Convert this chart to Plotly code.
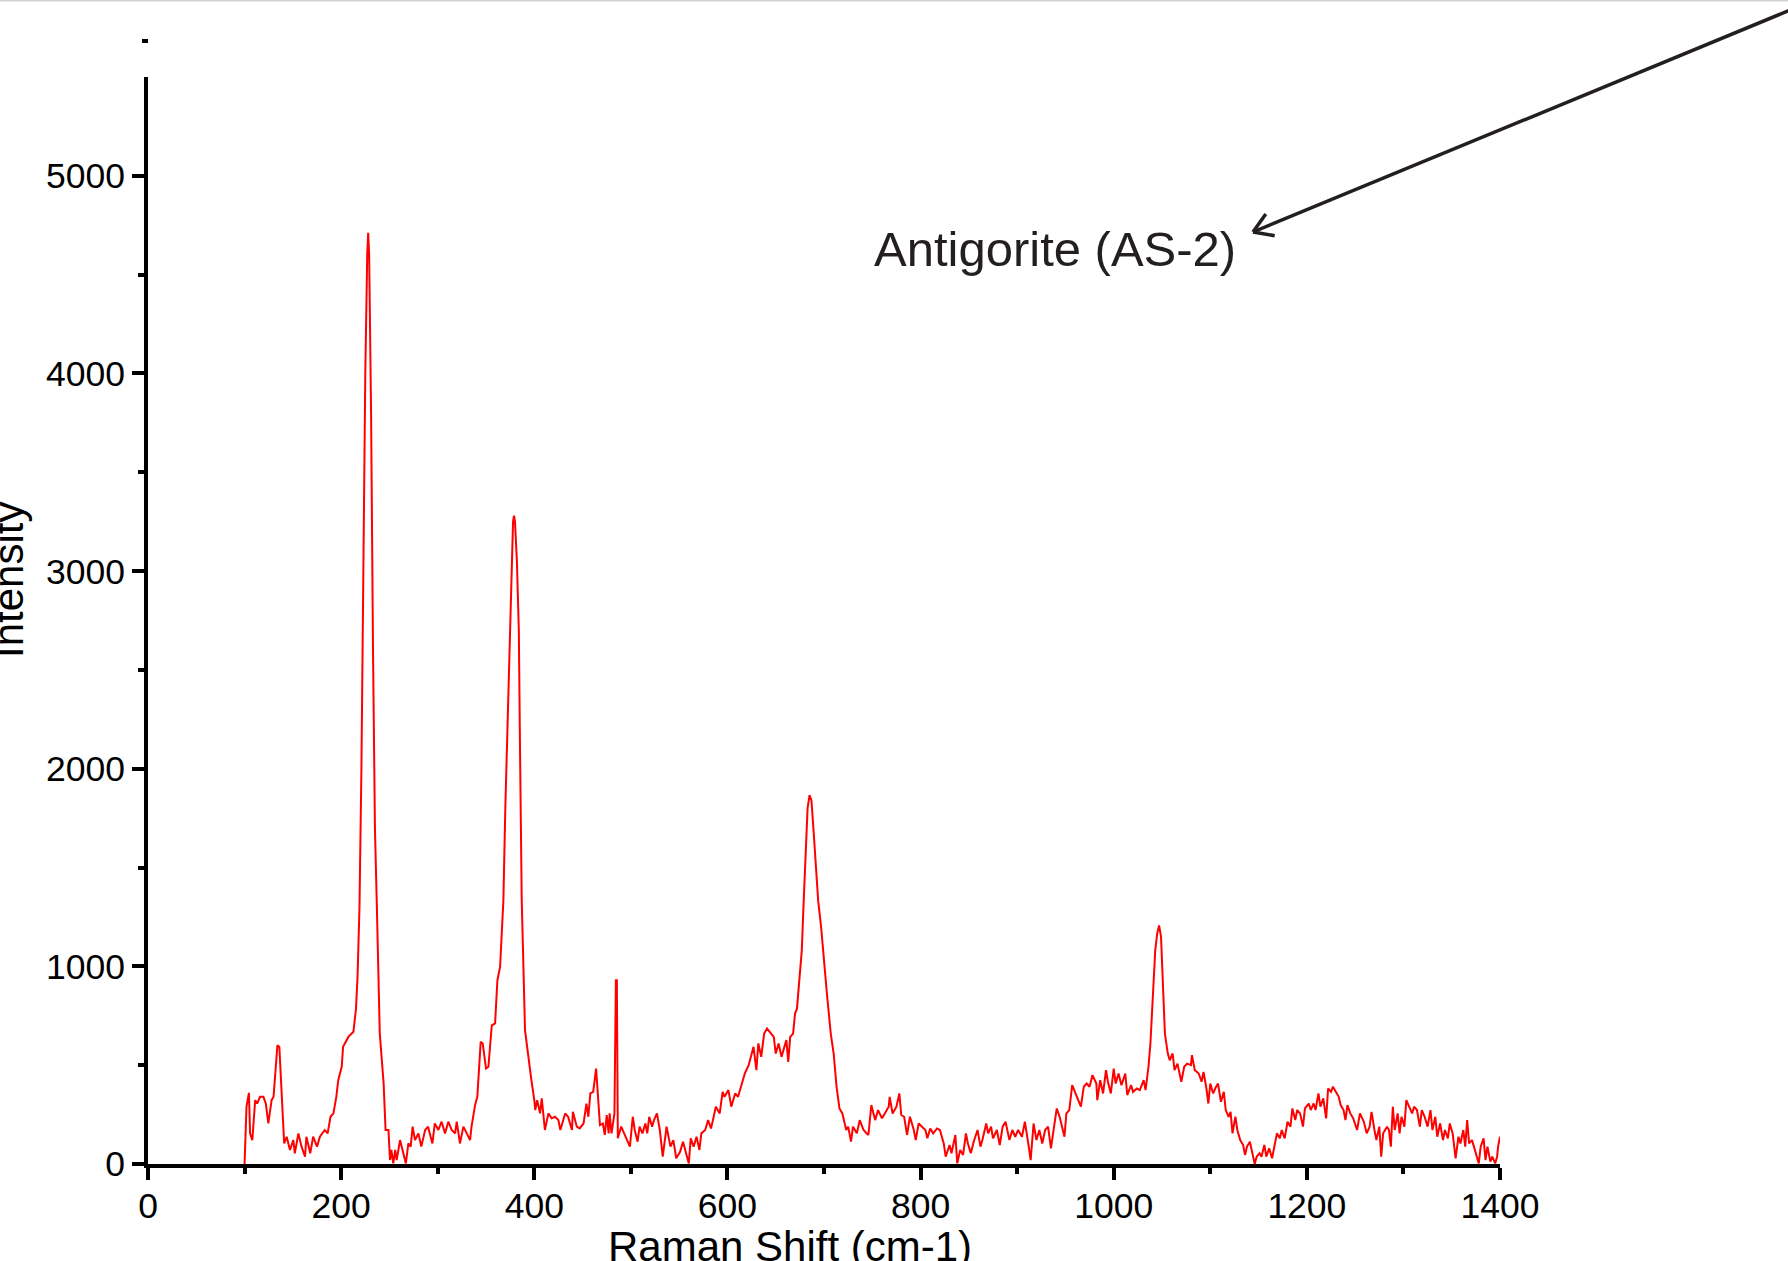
import math
import plotly.graph_objects as go

# ---------------- data ----------------
raman_shift = [
    100, 102, 104.5, 105.7, 108, 111, 113, 116, 119.5, 122, 124.6, 128, 130, 131.5, 134, 136, 137.4, 139.5,
    141, 143.6, 147, 150.5, 152, 155.7, 159, 162.6, 164, 168, 171, 175, 178, 183, 186, 189, 192, 195, 197,
    200.6, 202, 207.5, 212.7, 215.4, 217, 219, 221, 223, 225, 227, 228, 229, 231, 233, 235, 237, 240, 244,
    246, 249, 250.6, 252, 254, 256, 257.5, 261, 264, 267, 269.6, 272, 274, 276.5, 280, 283, 287, 290, 294.5,
    297, 300.7, 304, 307.6, 311, 314.5, 318, 319.7, 323, 326.6, 330, 333.5, 335, 338.7, 341, 344.5, 346.6,
    350, 352.5, 356, 359.4, 361.8, 364.6, 366.3, 368, 370, 372, 374, 376, 378, 379, 380, 382, 384, 385, 386,
    387, 390.4, 394, 397, 400, 401, 403, 406, 407.7, 411, 414.6, 418, 421.5, 425, 427, 432, 435, 439, 440,
    444, 447, 451, 454, 456, 458, 461, 464, 466, 468, 471, 473, 475, 477, 478, 480, 483, 484.5, 485.5, 486.5,
    490, 493, 496, 499, 502, 504, 507, 509, 512, 515, 517, 519, 522, 524, 527, 530, 533, 537, 541, 544, 547,
    551, 554, 557, 560, 562, 565, 568, 571, 573, 577, 580, 583, 585, 588, 592, 595, 597, 601, 604, 608, 611,
    615, 618, 622, 625, 627, 630, 632, 635, 638, 641, 644, 648, 650, 653, 656, 659, 661, 663, 665, 668, 670,
    672, 674, 677, 679, 681, 683, 685, 687, 689, 691, 694, 697, 699, 703, 707, 710, 713, 716, 719, 723, 725,
    728, 730, 734, 737, 741, 744, 746, 749, 753, 756, 760, 763, 767, 768, 771, 775, 778, 780, 783, 786, 789,
    793, 795, 798, 801, 805, 807, 810, 813, 817, 820, 824, 826, 830, 832, 836, 838, 841, 844, 847, 849, 852,
    855, 859, 862, 864, 868, 870, 873, 875, 879, 882, 885, 888, 892, 895, 898, 901, 905, 908, 912, 914, 917,
    920, 923, 926, 929, 932, 935, 938, 941, 944, 949, 951, 954, 957, 960, 963, 966, 969, 972, 975, 978, 982,
    983, 986, 989, 992, 994, 997, 1000, 1002, 1005, 1008, 1012, 1014, 1018, 1020, 1024, 1027, 1031, 1033,
    1036, 1038, 1040, 1043, 1045, 1047, 1049, 1051, 1053, 1056, 1058, 1061, 1063, 1066, 1070, 1073, 1076,
    1080, 1081, 1084, 1088, 1091, 1093, 1096, 1098, 1100, 1103, 1106, 1108, 1111, 1114, 1116, 1119, 1121,
    1123, 1126, 1128, 1131, 1134, 1136, 1138, 1141, 1144, 1146, 1148, 1151, 1153, 1156, 1158, 1161, 1164,
    1166, 1169, 1172, 1174, 1177, 1180, 1183, 1185, 1188, 1190, 1193, 1196, 1198, 1202, 1204, 1207, 1209,
    1212, 1214, 1217, 1220, 1222, 1225, 1227, 1230, 1233, 1235, 1238, 1240, 1242, 1245, 1248, 1252, 1255,
    1259, 1262, 1265, 1267, 1270, 1272, 1275, 1277, 1279, 1283, 1285, 1287, 1289, 1291, 1294, 1296, 1298,
    1301, 1303, 1306, 1309, 1311, 1314, 1317, 1319, 1322, 1325, 1328, 1330, 1333, 1335, 1338, 1341, 1343,
    1346, 1348, 1351, 1354, 1357, 1359, 1362, 1364, 1366, 1368, 1371, 1373, 1375, 1378, 1380, 1383, 1385,
    1387, 1390, 1392, 1395, 1397, 1398, 1400,
]

intensity = [
    0, 290, 360, 155, 120, 323, 306, 340, 340, 306, 205, 323, 340, 458, 601, 592, 458, 239,
    104, 138, 71, 121, 54, 155, 88, 37, 138, 54, 138, 88, 138, 172, 155, 239, 256, 340, 424,
    492, 593, 643, 669, 786, 950, 1300, 2000, 3000, 4000, 4600, 4712, 4600, 3800, 2600, 1700, 1300, 660, 407,
    172, 172, 20, 71, 3, 71, 20, 121, 54, 3, 104, 88, 189, 121, 155, 88, 172, 189, 104,
    205, 172, 214, 155, 214, 172, 155, 214, 104, 189, 155, 121, 189, 298, 340, 618, 610,
    483, 492, 702, 711, 930, 997, 1165, 1334, 1800, 2200, 2600, 3000, 3250, 3280, 3250, 3050, 2700, 2200, 1800,
    1334, 677, 525, 424, 323, 273, 323, 256, 332, 172, 256, 231, 239, 222, 172, 256, 239, 172, 264,
    189, 180, 205, 306, 239, 357, 365, 483, 357, 197, 205, 147, 248, 155, 256, 155, 256, 930, 930, 130,
    189, 155, 121, 88, 239, 172, 113, 189, 155, 205, 155, 239, 189, 222, 256, 172, 37, 189, 88, 121, 29,
    62, 113, 54, 3, 130, 88, 138, 71, 155, 172, 222, 180, 222, 290, 256, 365, 340, 374, 290, 357, 340,
    407, 458, 500, 559, 593, 475, 610, 542, 660, 685, 669, 643, 559, 610, 542, 593, 627, 517, 643, 660, 761,
    786, 913, 1081, 1334, 1600, 1800, 1866, 1840, 1700, 1560, 1330, 1200, 1100, 862, 660, 559, 391, 281, 256, 172, 189,
    113, 189, 155, 222, 172, 155, 147, 298, 222, 273, 231, 256, 290, 340, 255, 290, 357, 248, 239, 147, 239,
    172, 121, 205, 189, 172, 130, 180, 155, 180, 172, 104, 37, 96, 54, 147, 3, 71, 46, 155, 104, 54,
    113, 172, 88, 121, 205, 155, 189, 130, 172, 96, 189, 214, 121, 172, 138, 172, 138, 214, 88, 20, 205,
    121, 172, 104, 172, 189, 79, 189, 281, 239, 138, 256, 273, 399, 365, 323, 290, 391, 407, 391, 450, 407,
    323, 424, 357, 475, 416, 357, 483, 407, 458, 399, 458, 349, 399, 365, 382, 374, 424, 374,
    492, 610, 829, 1081, 1165, 1207, 1149, 913, 660, 559, 525, 559, 475, 508, 416, 492, 508,
    500, 551, 475, 458, 416, 466, 382, 306, 407, 357, 391, 407, 315, 365, 273, 239, 264,
    155, 239, 172, 121, 96, 46, 88, 113, 54, 0, 37, 54, 37, 96, 37, 79, 29,
    88, 155, 130, 172, 130, 214, 189, 281, 222, 273, 256, 189, 281, 306, 273, 306, 273,
    357, 290, 332, 231, 382, 365, 391, 365, 340, 298, 273, 222, 298, 256, 231, 172, 256,
    214, 155, 189, 264, 172, 121, 189, 37, 155, 189, 172, 88, 290, 172, 256, 155, 239,
    189, 323, 290, 256, 290, 273, 189, 273, 239, 189, 273, 172, 239, 138, 205, 121, 172,
    130, 205, 155, 29, 138, 104, 172, 88, 222, 104, 121, 88, 54, 3, 88, 130, 20,
    88, 12, 37, 3, 37, 88, 138,
]

x_tick_values = [0, 200, 400, 600, 800, 1000, 1200, 1400]
x_tick_labels = ["0", "200", "400", "600", "800", "1000", "1200", "1400"]
x_minor_values = [100, 300, 500, 700, 900, 1100, 1300]
y_tick_values = [0, 1000, 2000, 3000, 4000, 5000]
y_tick_labels = ["0", "1000", "2000", "3000", "4000", "5000"]
y_minor_values = [500, 1500, 2500, 3500, 4500]

x_title = "Raman Shift (cm-1)"
y_title = "Intensity"
sample_label = "Antigorite (AS-2)"

# ---------------- layout geometry (pixels) ----------------
W, H = 1788, 1261
ML, MR, MT, MB = 148, 288, 77, 97
PW, PH = W - ML - MR, H - MT - MB


def px(xp):
    return (xp - ML) / PW


def py(yp):
    return (H - MB - yp) / PH


FONT = "Liberation Sans, Arial, Helvetica, sans-serif"
INK = "#231f20"

fig = go.Figure()
fig.add_trace(go.Scatter(
    x=raman_shift, y=intensity, mode="lines",
    line=dict(color="#ff0000", width=2),
    showlegend=False,
))

axis_common = dict(
    showline=True, linecolor="black", linewidth=4,
    ticks="outside", ticklen=12, tickwidth=3.5, tickcolor="black",
    showgrid=False, zeroline=False,
    tickfont=dict(family=FONT, size=35.5, color="black"),
    tickmode="array",
)

fig.update_xaxes(
    **axis_common,
    range=[0, 1400], tickvals=x_tick_values, ticktext=x_tick_labels,
    minor=dict(tickmode="array", tickvals=x_minor_values, ticks="outside",
               ticklen=6, tickwidth=3.5, tickcolor="black"),
    ticklabelstandoff=-5,
)
fig.update_yaxes(
    **axis_common,
    range=[0, 5500], tickvals=y_tick_values, ticktext=y_tick_labels,
    minor=dict(tickmode="array", tickvals=y_minor_values, ticks="outside",
               ticklen=6, tickwidth=3.5, tickcolor="black"),
    ticklabelstandoff=0,
)

annotations = [
    dict(text=x_title, xref="paper", yref="paper", x=px(790), y=py(1246),
         xanchor="center", yanchor="middle", showarrow=False,
         font=dict(family=FONT, size=42, color="black")),
    dict(text=y_title, xref="paper", yref="paper", x=px(8), y=py(580),
         xanchor="center", yanchor="middle", showarrow=False, textangle=-90,
         font=dict(family=FONT, size=42, color="black")),
    dict(text=sample_label, xref="paper", yref="paper", x=px(1055), y=py(249),
         xanchor="center", yanchor="middle", showarrow=False,
         font=dict(family=FONT, size=49, color=INK)),
]

# arrow pointing at the label (open V head)
tip = (1253, 232)
tail = (1800, 6)
dx, dy = tail[0] - tip[0], tail[1] - tip[1]
n = math.hypot(dx, dy)
ux, uy = dx / n, dy / n
shapes = [
    dict(type="line", xref="paper", yref="paper",
         x0=px(tip[0]), y0=py(tip[1]), x1=px(tail[0]), y1=py(tail[1]),
         line=dict(color=INK, width=3.5)),
]
for ang in (32, -32):
    a = math.radians(ang)
    hx = ux * math.cos(a) - uy * math.sin(a)
    hy = ux * math.sin(a) + uy * math.cos(a)
    shapes.append(dict(type="line", xref="paper", yref="paper",
                       x0=px(tip[0]), y0=py(tip[1]),
                       x1=px(tip[0] + 22 * hx), y1=py(tip[1] + 22 * hy),
                       line=dict(color=INK, width=3.5)))
# small stray dash above the y axis and thin grey border at the top
shapes.append(dict(type="line", xref="paper", yref="paper",
                   x0=px(142), y0=py(41), x1=px(148), y1=py(41),
                   line=dict(color="black", width=4)))
shapes.append(dict(type="line", xref="paper", yref="paper",
                   x0=px(0), y0=py(0.8), x1=px(W), y1=py(0.8),
                   line=dict(color="#d0d0d0", width=1.5)))

fig.update_layout(
    width=W, height=H,
    margin=dict(l=ML, r=MR, t=MT, b=MB, autoexpand=False),
    paper_bgcolor="white", plot_bgcolor="white",
    font=dict(family=FONT, color="black"),
    annotations=annotations, shapes=shapes,
    showlegend=False,
)

fig.write_html(
    "out.html",
    config={"displayModeBar": False},
    post_script="document.body.style.margin='0px';document.body.style.overflow='hidden';",
)
